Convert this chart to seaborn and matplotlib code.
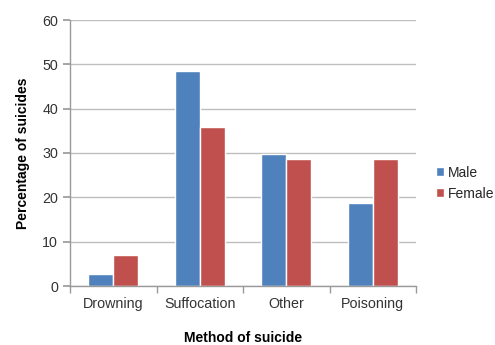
import matplotlib
matplotlib.use("Agg")
import matplotlib.pyplot as plt
import seaborn as sns
import pandas as pd
import numpy as np

methods = ["Drowning", "Suffocation", "Other", "Poisoning"]
male = [2.7, 48.6, 29.7, 18.8]
female = [7.0, 35.8, 28.6, 28.6]
sexes = ["Male", "Female"]
colors = ["#4F81BD", "#C0504D"]

df = pd.DataFrame({
    "Method": methods * 2,
    "Sex": ["Male"] * len(methods) + ["Female"] * len(methods),
    "Percent": male + female,
})

sns.set_theme(style="white")
plt.rcParams["font.family"] = ["Liberation Sans", "DejaVu Sans"]

fig = plt.figure(figsize=(4.95, 3.45), dpi=100)
ax = fig.add_axes([70 / 495, 59 / 345, 346 / 495, 266 / 345])

sns.barplot(data=df, x="Method", y="Percent", hue="Sex", order=methods,
            hue_order=sexes, palette=colors, width=0.58, saturation=1,
            ax=ax, legend=True)

ax.set_ylim(0, 60)
ax.set_xlim(-0.5, len(methods) - 0.5)
ax.set_yticks(np.arange(0, 61, 10))
ax.yaxis.grid(True, color="#BEBEBE", linewidth=1)
ax.set_axisbelow(True)

for s in ["top", "right"]:
    ax.spines[s].set_visible(False)
for s in ["left", "bottom"]:
    ax.spines[s].set_color("#9A9A9A")
    ax.spines[s].set_linewidth(1)

ax.tick_params(axis="x", which="major", length=0, labelsize=10.3, pad=8,
               colors="#333333")
ax.set_xticks(np.arange(-0.5, len(methods)), minor=True)
ax.tick_params(axis="x", which="minor", length=5, color="#9A9A9A",
               direction="out", bottom=True)
ax.tick_params(axis="y", length=5, color="#9A9A9A", labelsize=10.3,
               colors="#333333", left=True, direction="out")
ax.tick_params(axis="y", labelcolor="#333333")

ax.set_xlabel("Method of suicide", fontsize=10, fontweight="bold",
              labelpad=14, color="black")
ax.set_ylabel("Percentage of suicides", fontsize=10, fontweight="bold",
              labelpad=9, color="black")

leg = ax.legend(loc="center left", bbox_to_anchor=(1.021, 0.387), frameon=False,
                fontsize=10, handlelength=0.6, handleheight=0.6,
                handletextpad=0.3, labelspacing=0.5)

fig.savefig("out.png", dpi=100)
